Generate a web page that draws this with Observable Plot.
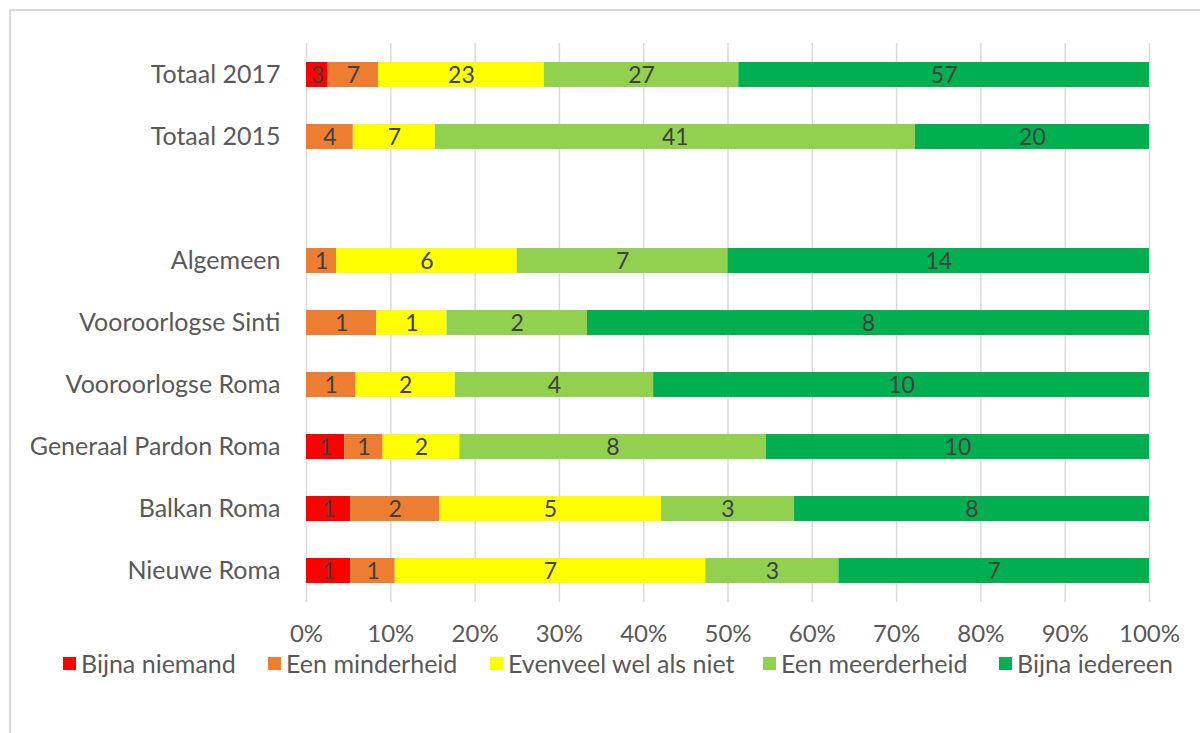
<!DOCTYPE html>
<html><head><meta charset="utf-8">
<script src="https://cdn.jsdelivr.net/npm/d3@7"></script>
<script src="https://cdn.jsdelivr.net/npm/@observablehq/plot@0.6"></script>
<style>
body{margin:0;background:#fff;font-family:Lato,"Open Sans",sans-serif;}
#frame{position:absolute;left:9px;top:9px;width:1300px;height:900px;border-left:2px solid #d9d9d9;border-top:2px solid #d9d9d9;}
#chart{position:absolute;left:0;top:0;}
#legend{position:absolute;top:648px;left:0;width:1200px;height:32px;font-size:25px;color:#595959;}
.li{position:absolute;display:flex;align-items:center;white-space:nowrap;}
.sw{width:13px;height:13px;margin-right:5px;display:inline-block;}
</style></head>
<body>
<div id="frame"></div>
<div id="chart"></div>
<div id="legend"></div>
<script>
const categories = ["Totaal 2017","Totaal 2015"," ","Algemeen","Vooroorlogse Sinti","Vooroorlogse Roma","Generaal Pardon Roma","Balkan Roma","Nieuwe Roma"];
const seriesNames = ["Bijna niemand","Een minderheid","Evenveel wel als niet","Een meerderheid","Bijna iedereen"];
const seriesColors = ["#FF0000","#ED7D31","#FFFF00","#92D050","#00B050"];
const bijnaNiemand   = [3,0,0,0,0,0,1,1,1];
const eenMinderheid  = [7,4,0,1,1,1,1,2,1];
const evenveel       = [23,7,0,6,1,2,2,5,7];
const eenMeerderheid = [27,41,0,7,2,4,8,3,3];
const bijnaIedereen  = [57,20,0,14,8,10,10,8,7];
const xTicks = [0,0.1,0.2,0.3,0.4,0.5,0.6,0.7,0.8,0.9,1];

const seriesValues = [bijnaNiemand,eenMinderheid,evenveel,eenMeerderheid,bijnaIedereen];
const data = [];
categories.forEach((c,i)=>{
  seriesNames.forEach((s,j)=>{
    data.push({cat:c, series:s, value:seriesValues[j][i]});
  });
});
const barData = data.filter(d=>categories.indexOf(d.cat)!==2);

const chart = Plot.plot({
  width:1200, height:700,
  marginLeft:306, marginRight:51, marginTop:43, marginBottom:98,
  style:{fontFamily:"Lato, 'Open Sans', sans-serif", fontSize:"25px", color:"#595959", background:"transparent"},
  x:{domain:[0,1], ticks:xTicks, tickFormat:d3.format(".0%"), tickSize:0, tickPadding:22, label:null, fontSize:24},
  y:{domain:categories, paddingInner:0.6, paddingOuter:0.3, tickSize:0, tickPadding:26, label:null},
  color:{domain:seriesNames, range:seriesColors},
  marks:[
    Plot.gridX(xTicks,{stroke:"#d9d9d9", strokeOpacity:1, strokeWidth:1.5}),
    Plot.axisX(xTicks,{tickFormat:d3.format(".0%"), tickSize:0, tickPadding:22, fontSize:24, label:null}),
    Plot.axisY({tickSize:0, tickPadding:26, fontSize:25, label:null}),
    Plot.barX(barData, Plot.stackX({x:"value", y:"cat", z:"series", fill:"series", order:seriesNames, offset:"normalize"})),
    Plot.text(barData, Plot.stackX({x:"value", y:"cat", z:"series", order:seriesNames, offset:"normalize", text:d=>d.value>0?String(d.value):"", fill:"#404040", fontSize:23, dy:1}))
  ]
});
document.getElementById("chart").appendChild(chart);

const legend = document.getElementById("legend");
const lefts = [63,268,490,763,999];
seriesNames.forEach((s,j)=>{
  const d = document.createElement("div");
  d.className="li";
  d.style.left = lefts[j]+"px";
  d.innerHTML = `<span class="sw" style="background:${seriesColors[j]}"></span><span>${s}</span>`;
  legend.appendChild(d);
});
</script>
</body></html>
